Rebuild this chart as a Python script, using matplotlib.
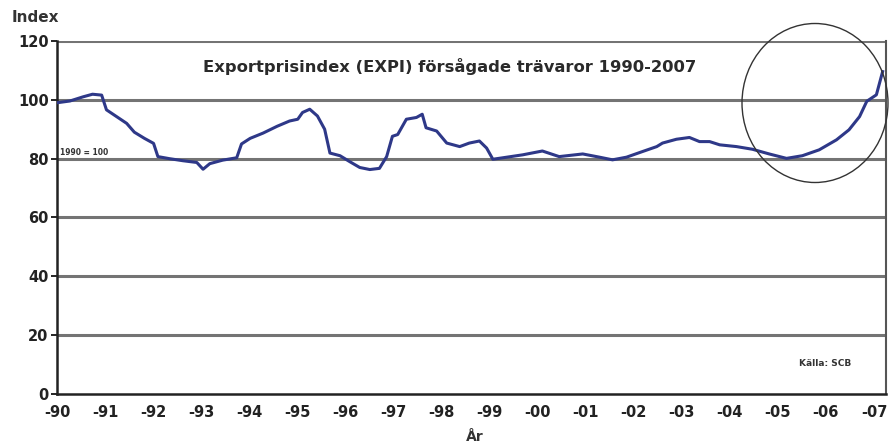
import numpy as np
import matplotlib.pyplot as plt
from matplotlib.patches import Ellipse

# Export price index (1990 = 100)
years = [1990.0, 1990.27, 1990.54, 1990.74, 1990.93, 1991.03, 1991.24, 1991.45,
         1991.61, 1991.82, 1992.01, 1992.1, 1992.34, 1992.62, 1992.91, 1993.04,
         1993.18, 1993.45, 1993.74, 1993.84, 1994.02, 1994.29, 1994.58, 1994.84,
         1995.01, 1995.11, 1995.26, 1995.42, 1995.57, 1995.68, 1995.89, 1996.09,
         1996.3, 1996.51, 1996.71, 1996.86, 1996.98, 1997.09, 1997.27, 1997.48,
         1997.6, 1997.68, 1997.9, 1998.11, 1998.38, 1998.58, 1998.79, 1998.94,
         1999.07, 1999.36, 1999.69, 2000.1, 2000.45, 2000.94, 2001.29, 2001.56,
         2001.85, 2002.18, 2002.48, 2002.6, 2002.89, 2003.16, 2003.37, 2003.58,
         2003.79, 2004.14, 2004.47, 2004.82, 2005.18, 2005.51, 2005.86, 2006.22,
         2006.48, 2006.7, 2006.85, 2007.05, 2007.18]
index = [99.0, 99.6, 101.0, 101.9, 101.6, 96.6, 94.3, 92.0,
         89.0, 86.9, 85.2, 80.7, 80.0, 79.3, 78.7, 76.4,
         78.3, 79.5, 80.3, 85.0, 86.9, 88.7, 91.0, 92.8,
         93.4, 95.7, 96.8, 94.5, 90.0, 81.9, 81.0, 79.0,
         77.0, 76.3, 76.7, 80.7, 87.6, 88.2, 93.4, 94.0,
         95.1, 90.5, 89.4, 85.3, 84.1, 85.3, 86.0, 83.6,
         79.8, 80.5, 81.3, 82.6, 80.7, 81.6, 80.5, 79.6,
         80.5, 82.4, 84.1, 85.3, 86.6, 87.2, 85.8, 85.8,
         84.7, 84.1, 83.2, 81.6, 80.1, 81.0, 83.0, 86.4,
         89.8, 94.3, 99.5, 101.7, 109.6]

tick_years = list(range(1990, 2008))
tick_labels = ["-90", "-91", "-92", "-93", "-94", "-95", "-96", "-97", "-98",
               "-99", "-00", "-01", "-02", "-03", "-04", "-05", "-06", "-07"]
y_ticks = [0, 20, 40, 60, 80, 100, 120]

plt.rcParams['font.family'] = ['DejaVu Sans']

fig = plt.figure(figsize=(8.9, 4.45), dpi=100)
ax = fig.add_axes([0.064, 0.1146, 0.9315, 0.7933])

for v in y_ticks[1:]:
    ax.axhline(v, color="#747474", linewidth=2.2, zorder=1)

ax.plot(years, index, color="#2e3888", linewidth=2.2, zorder=3)

ax.set_xlim(1990, 2007.25)
ax.set_ylim(0, 120)
ax.set_xticks(tick_years)
ax.set_xticklabels(tick_labels, fontsize=10.5, fontweight="bold", color="#222222")
ax.set_yticks(y_ticks)
ax.set_yticklabels([str(v) for v in y_ticks], fontsize=10.5, fontweight="bold",
                   color="#222222")
ax.tick_params(axis="x", length=0, pad=8)
ax.tick_params(axis="y", length=4, width=1.2, pad=2)

for side in ["left", "bottom"]:
    ax.spines[side].set_color("#222222")
    ax.spines[side].set_linewidth(1.8)
ax.spines["right"].set_color("#555555")
ax.spines["right"].set_linewidth(1.5)
ax.spines["top"].set_visible(False)

ax.text(0.176, 0.927, "Exportprisindex (EXPI) försågade trävaror 1990-2007",
        transform=ax.transAxes, fontsize=11.8, fontweight="bold", color="#2a2a2a",
        ha="left", va="center")
ax.text(0.004, 0.67, "1990 = 100", transform=ax.transAxes, fontsize=5.5,
        fontweight="bold", color="#333333", ha="left", va="bottom")
ax.text(0.895, 0.087, "Källa: SCB", transform=ax.transAxes, fontsize=6.5,
        fontweight="bold", color="#333333", ha="left", va="center")

fig.text(0.013, 0.96, "Index", fontsize=11, fontweight="bold", color="#333333",
         ha="left", va="center")
fig.text(0.533, 0.018, "År", fontsize=10, fontweight="bold", color="#333333",
         ha="center", va="center")

# Highlight circle around the recent rise
circle = Ellipse((815 / 890, 1 - 103 / 445), 146 / 890, 159 / 445,
                 transform=fig.transFigure, fill=False, edgecolor="#333333",
                 linewidth=1.0, clip_on=False, zorder=4)
fig.patches.append(circle)

fig.savefig("out.png", dpi=100, facecolor="white")
